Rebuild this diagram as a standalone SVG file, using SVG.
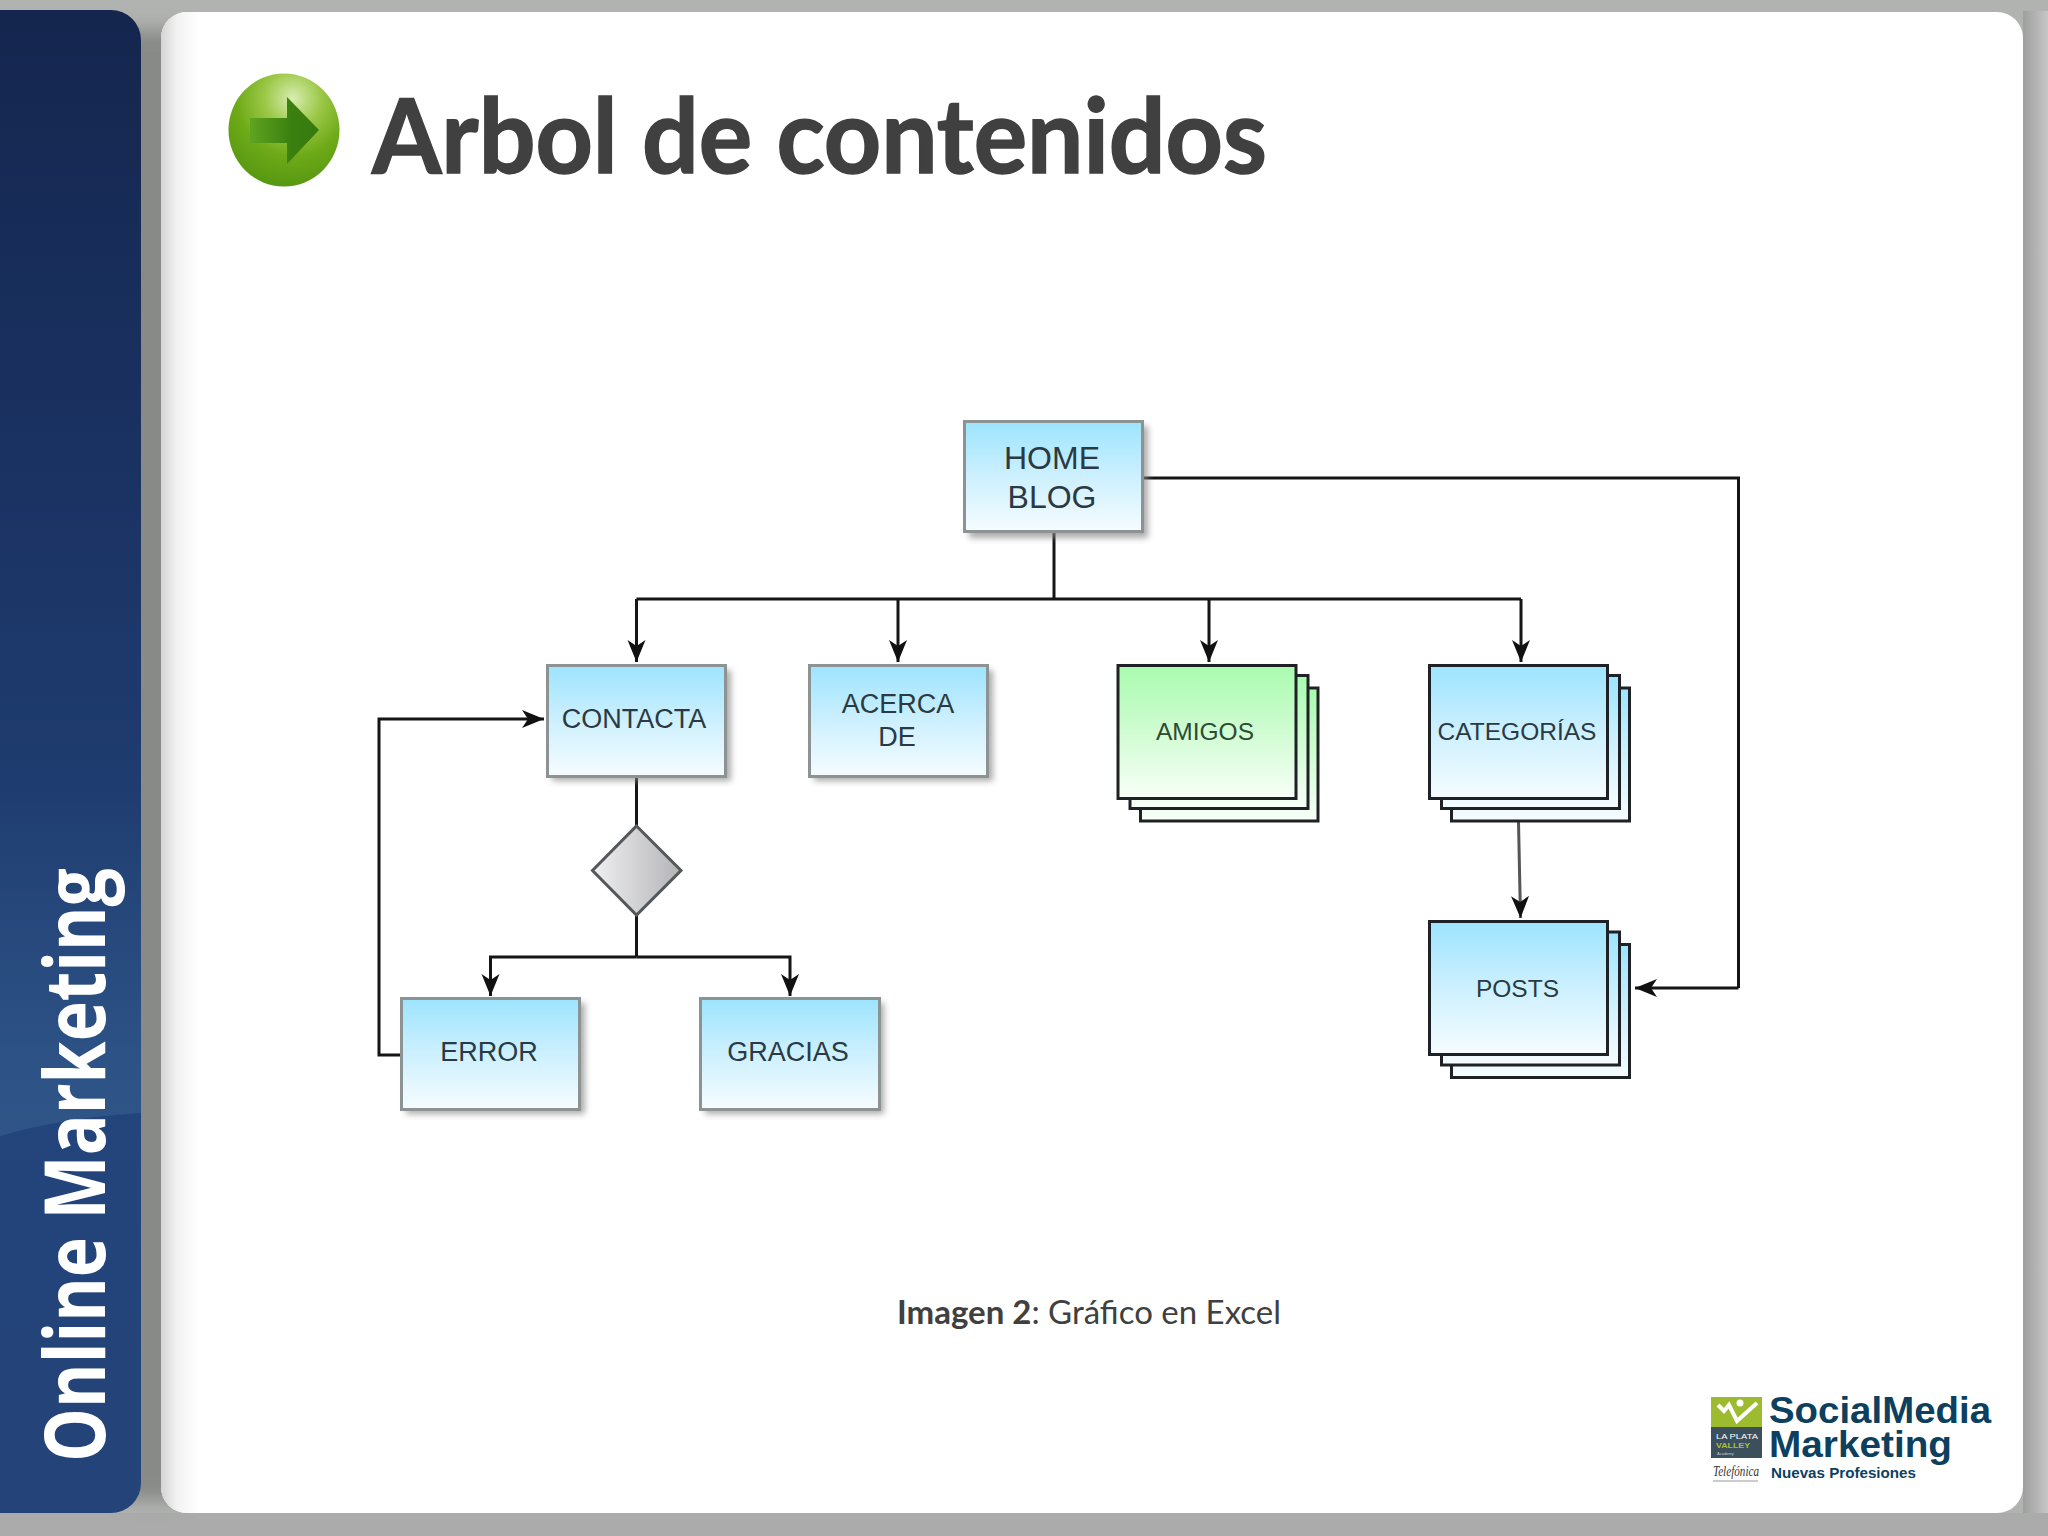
<svg xmlns="http://www.w3.org/2000/svg" width="2048" height="1536" viewBox="0 0 2048 1536">
<style>
.lbl{font-family:"Liberation Sans",Arial,sans-serif;fill:#2b3a42;text-anchor:middle}
.box{stroke:#8d9293;stroke-width:3}
.stk{stroke:#1e2224;stroke-width:3}
.conn{fill:none;stroke:#151515;stroke-width:3}
.logo{font-family:"Liberation Sans",Arial,sans-serif;font-weight:700;fill:#0d3f5e}
</style>
<defs>
<linearGradient id="blue" x1="0" y1="0" x2="0" y2="1"><stop offset="0" stop-color="#9de4fe"/><stop offset="0.5" stop-color="#cdf0fe"/><stop offset="1" stop-color="#f6fcff"/></linearGradient>
<linearGradient id="green" x1="0" y1="0" x2="0" y2="1"><stop offset="0" stop-color="#a9fbaf"/><stop offset="0.5" stop-color="#d0fcd2"/><stop offset="1" stop-color="#f8fff8"/></linearGradient>
<linearGradient id="gem" x1="0" y1="0" x2="1" y2="0"><stop offset="0" stop-color="#f0f0f2"/><stop offset="1" stop-color="#b4b4b8"/></linearGradient>
<linearGradient id="navy" x1="0" y1="0" x2="0" y2="1"><stop offset="0" stop-color="#14264e"/><stop offset="0.3" stop-color="#1a3262"/><stop offset="0.7" stop-color="#23457b"/><stop offset="1" stop-color="#234379"/></linearGradient>
<linearGradient id="glow" x1="0" y1="0" x2="0" y2="1"><stop offset="0" stop-color="#3f6a98" stop-opacity="0"/><stop offset="1" stop-color="#3f6a98" stop-opacity="0.45"/></linearGradient>
<linearGradient id="rgap" x1="0" y1="0" x2="1" y2="0"><stop offset="0" stop-color="#9f9f9f"/><stop offset="1" stop-color="#c6c6c6"/></linearGradient>
<linearGradient id="inner" x1="0" y1="0" x2="1" y2="0"><stop offset="0" stop-color="#d4d4d4"/><stop offset="0.4" stop-color="#f2f2f2"/><stop offset="1" stop-color="#ffffff"/></linearGradient>
<radialGradient id="ball" cx="0.58" cy="0.22" r="0.85"><stop offset="0" stop-color="#d8edb0"/><stop offset="0.3" stop-color="#9cc848"/><stop offset="0.6" stop-color="#6eaa18"/><stop offset="1" stop-color="#529410"/></radialGradient>
<linearGradient id="arw" x1="0" y1="0" x2="1" y2="0"><stop offset="0" stop-color="#5fa420"/><stop offset="0.6" stop-color="#3a8010"/><stop offset="1" stop-color="#357a0e"/></linearGradient>
<filter id="sh" x="-10%" y="-10%" width="125%" height="125%"><feGaussianBlur stdDeviation="3"/></filter>
<filter id="fade" x="-50%" y="-5%" width="200%" height="110%"><feGaussianBlur stdDeviation="9"/></filter>
<clipPath id="panelClip"><path d="M0 10H111a30 30 0 0 1 30 30V1483a30 30 0 0 1-30 30H0Z"/></clipPath>
<marker id="ah" markerUnits="userSpaceOnUse" markerWidth="26" markerHeight="24" viewBox="-22 -12 26 24" refX="0" refY="0" orient="auto"><path d="M0 0L-22 -9L-16 0L-22 9Z" fill="#111"/></marker>
</defs>

<g id="background">
<rect width="2048" height="1536" fill="#b1b3b0"/>
<rect x="2023" y="11" width="25" height="1525" fill="url(#rgap)"/>
<rect x="0" y="1513" width="2048" height="23" fill="#ababab"/>
<rect x="120" y="30" width="65" height="1470" fill="#888a88" filter="url(#fade)"/>
</g>

<g id="side-panel">
<path d="M0 10H111a30 30 0 0 1 30 30V1483a30 30 0 0 1-30 30H0Z" fill="url(#navy)"/>
<g clip-path="url(#panelClip)">
<path d="M0 790H141V1113Q60 1118 0 1136Z" fill="url(#glow)"/>
</g>
<text transform="translate(105 1462) rotate(-90)" font-family="'Open Sans',sans-serif" font-weight="700" font-size="85" fill="#ffffff" textLength="594" lengthAdjust="spacingAndGlyphs">Online Marketing</text>
</g>

<g id="page">
<rect x="161" y="12" width="1862" height="1501" rx="26" fill="#ffffff"/>
<path d="M200 12H187a26 26 0 0 0-26 26V1487a26 26 0 0 0 26 26H200Z" fill="url(#inner)"/>
</g>

<g id="title">
<ellipse cx="284" cy="130" rx="55.500" ry="56.500" fill="url(#ball)"/>
<path d="M250 118H287V97L319 130L287 164V143H250Z" fill="url(#arw)"/>
<text x="372" y="173" font-family="Lato,'Open Sans',sans-serif" font-weight="700" font-size="104" fill="#404040" stroke="#404040" stroke-width="1.500" textLength="895" lengthAdjust="spacingAndGlyphs">Arbol de contenidos</text>
</g>

<g id="connectors">
<path class="conn" d="M1054 533V599"/>
<path class="conn" d="M636.500 599H1521"/>
<path class="conn" marker-end="url(#ah)" d="M636.500 599V662"/>
<path class="conn" marker-end="url(#ah)" d="M898 599V662"/>
<path class="conn" marker-end="url(#ah)" d="M1209 599V662"/>
<path class="conn" marker-end="url(#ah)" d="M1521 599V662"/>
<path class="conn" d="M1143 478H1738.500V988"/>
<path class="conn" marker-end="url(#ah)" d="M1738.500 988H1635"/>
<path class="conn" style="stroke:#555" marker-end="url(#ah)" d="M1518.500 822L1520.500 918"/>
<path class="conn" d="M636.500 776V826M636.500 915V957"/>
<path class="conn" marker-end="url(#ah)" d="M636.500 957H490.500V996"/>
<path class="conn" marker-end="url(#ah)" d="M636.500 957H790V996"/>
<path class="conn" marker-end="url(#ah)" d="M401 1055H379V719H544"/>
</g>

<g id="node-home"><rect x="969" y="426" width="179" height="112" fill="#888" opacity=".7" filter="url(#sh)"/><rect class="box" x="964.500" y="421.500" width="178" height="110" fill="url(#blue)"/><text class="lbl" font-size="32" x="1052" y="469">HOME</text><text class="lbl" font-size="32" x="1052" y="508">BLOG</text></g>
<g id="node-contacta"><rect x="552" y="670" width="179" height="111" fill="#888" opacity=".7" filter="url(#sh)"/><rect class="box" x="547.500" y="665.500" width="178" height="111" fill="url(#blue)"/><text class="lbl" font-size="27" x="634" y="728">CONTACTA</text></g>
<g id="node-acerca"><rect x="814" y="670" width="179" height="111" fill="#888" opacity=".7" filter="url(#sh)"/><rect class="box" x="809.500" y="665.500" width="178" height="111" fill="url(#blue)"/><text class="lbl" font-size="27" x="898" y="713">ACERCA</text><text class="lbl" font-size="27" x="897" y="746">DE</text></g>
<g id="node-decision"><path d="M636.500 826L681 870.500L636.500 915L592.500 870.500Z" fill="url(#gem)" stroke="#55585a" stroke-width="3"/></g>
<g id="node-error"><rect x="406" y="1003" width="179" height="111" fill="#888" opacity=".7" filter="url(#sh)"/><rect class="box" x="401.500" y="998.500" width="178" height="111" fill="url(#blue)"/><text class="lbl" font-size="27" x="489" y="1061">ERROR</text></g>
<g id="node-gracias"><rect x="705" y="1003" width="179" height="111" fill="#888" opacity=".7" filter="url(#sh)"/><rect class="box" x="700.500" y="998.500" width="179" height="111" fill="url(#blue)"/><text class="lbl" font-size="27" x="788" y="1061">GRACIAS</text></g>

<g id="node-amigos">
<rect class="stk" x="1140.500" y="688" width="177.500" height="133" fill="url(#green)"/>
<rect class="stk" x="1130" y="675.500" width="178" height="133" fill="url(#green)"/>
<rect class="stk" x="1118" y="665.500" width="178" height="133" fill="url(#green)"/>
<text class="lbl" style="fill:#2e4a35" font-size="24.500" x="1205" y="740">AMIGOS</text>
</g>
<g id="node-categorias">
<rect class="stk" x="1451.500" y="688" width="178" height="133" fill="url(#blue)"/>
<rect class="stk" x="1441.500" y="675.500" width="178" height="133" fill="url(#blue)"/>
<rect class="stk" x="1429.500" y="665.500" width="178" height="133" fill="url(#blue)"/>
<text class="lbl" font-size="24.500" x="1517" y="740">CATEGORÍAS</text>
</g>
<g id="node-posts">
<rect class="stk" x="1451.500" y="944.500" width="178" height="133" fill="url(#blue)"/>
<rect class="stk" x="1441.500" y="932" width="178" height="133" fill="url(#blue)"/>
<rect class="stk" x="1429.500" y="921.500" width="178" height="133" fill="url(#blue)"/>
<text class="lbl" font-size="24.500" x="1517.500" y="997">POSTS</text>
</g>

<g id="caption">
<text x="897" y="1324" font-family="Lato,'Open Sans',sans-serif" font-size="32" fill="#404040" textLength="384" lengthAdjust="spacingAndGlyphs"><tspan font-weight="700">Imagen 2</tspan>: Gráfico en Excel</text>
</g>

<g id="logo">
<rect x="1711" y="1397" width="51" height="31" fill="#9dbb2f"/>
<rect x="1711" y="1427" width="51" height="31" fill="#3b4f5c"/>
<path d="M1718 1405L1724 1411L1729 1405L1737 1421L1757 1403" fill="none" stroke="#ffffff" stroke-width="4"/>
<circle cx="1740" cy="1403" r="3.500" fill="#ffffff"/>
<text x="1716" y="1439" font-family="'Liberation Sans',sans-serif" font-size="8" fill="#ffffff" textLength="42" lengthAdjust="spacingAndGlyphs">LA PLATA</text>
<text x="1716" y="1448" font-family="'Liberation Sans',sans-serif" font-weight="700" font-size="8" fill="#a8c236" textLength="34" lengthAdjust="spacingAndGlyphs">VALLEY</text>
<text x="1717" y="1455" font-family="'Liberation Sans',sans-serif" font-size="4" fill="#c8d0d0">Academy</text>
<text x="1713" y="1476" font-family="'Liberation Serif',serif" font-style="italic" font-size="15" fill="#333" textLength="46" lengthAdjust="spacingAndGlyphs">Telefónica</text>
<path d="M1713 1481H1758" stroke="#999" stroke-width="1"/>
<text class="logo" x="1769" y="1423" font-size="37" textLength="222" lengthAdjust="spacingAndGlyphs">SocialMedia</text>
<text class="logo" x="1769" y="1457" font-size="37" textLength="183" lengthAdjust="spacingAndGlyphs">Marketing</text>
<text class="logo" x="1771" y="1478" font-size="15" textLength="145" lengthAdjust="spacingAndGlyphs">Nuevas Profesiones</text>
</g>
</svg>
